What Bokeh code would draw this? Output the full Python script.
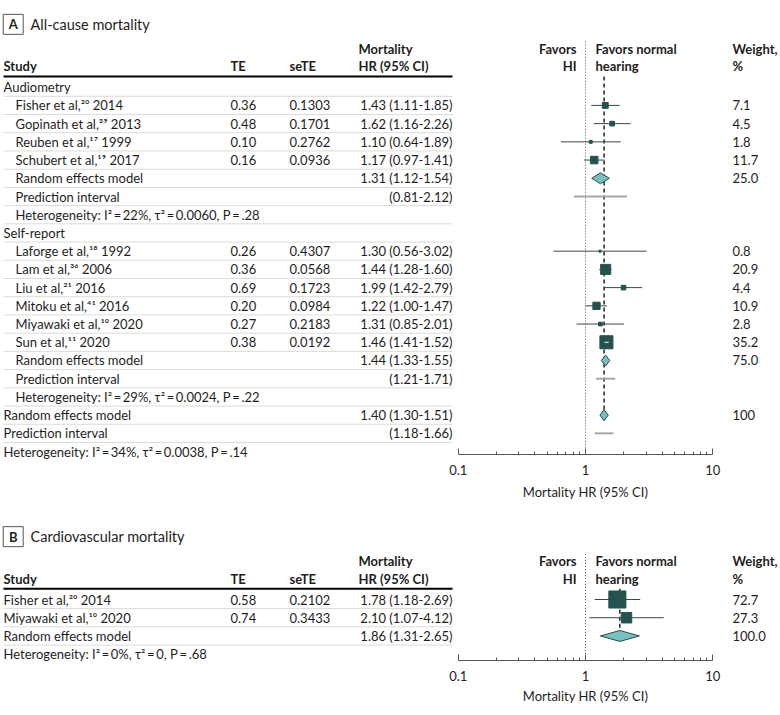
import math
from bokeh.plotting import figure
from bokeh.models import Range1d, LogScale, LogAxis, FixedTicker, ColumnDataSource
from bokeh.layouts import column
from bokeh.embed import file_html
from bokeh.resources import INLINE
from bokeh.core.properties import value

# ---------------- data ----------------
# Panel A: all-cause mortality
aud_names = ["Fisher et al,²⁰ 2014", "Gopinath et al,³⁹ 2013", "Reuben et al,¹⁷ 1999", "Schubert et al,¹⁹ 2017"]
aud_te = [0.36, 0.48, 0.10, 0.16]
aud_sete = [0.1303, 0.1701, 0.2762, 0.0936]
aud_hr = [1.43, 1.62, 1.10, 1.17]
aud_lo = [1.11, 1.16, 0.64, 0.97]
aud_hi = [1.85, 2.26, 1.89, 1.41]
aud_w = [7.1, 4.5, 1.8, 11.7]
aud_rem = [1.31, 1.12, 1.54]
aud_rem_w = "25.0"
aud_pi = [0.81, 2.12]
aud_het = "Heterogeneity: I²\u2009=\u200922%, τ²\u2009=\u20090.0060, P\u2009=\u2009.28"

sr_names = ["Laforge et al,¹⁸ 1992", "Lam et al,³⁶ 2006", "Liu et al,²¹ 2016", "Mitoku et al,⁴¹ 2016",
            "Miyawaki et al,¹⁰ 2020", "Sun et al,¹¹ 2020"]
sr_te = [0.26, 0.36, 0.69, 0.20, 0.27, 0.38]
sr_sete = [0.4307, 0.0568, 0.1723, 0.0984, 0.2183, 0.0192]
sr_hr = [1.30, 1.44, 1.99, 1.22, 1.31, 1.46]
sr_lo = [0.56, 1.28, 1.42, 1.00, 0.85, 1.41]
sr_hi = [3.02, 1.60, 2.79, 1.47, 2.01, 1.52]
sr_w = [0.8, 20.9, 4.4, 10.9, 2.8, 35.2]
sr_rem = [1.44, 1.33, 1.55]
sr_rem_w = "75.0"
sr_pi = [1.21, 1.71]
sr_het = "Heterogeneity: I²\u2009=\u200929%, τ²\u2009=\u20090.0024, P\u2009=\u2009.22"

all_rem = [1.40, 1.30, 1.51]
all_rem_w = "100"
all_pi = [1.18, 1.66]
all_het = "Heterogeneity: I²\u2009=\u200934%, τ²\u2009=\u20090.0038, P\u2009=\u2009.14"

# Panel B: cardiovascular mortality
cv_names = ["Fisher et al,²⁰ 2014", "Miyawaki et al,¹⁰ 2020"]
cv_te = [0.58, 0.74]
cv_sete = [0.2102, 0.3433]
cv_hr = [1.78, 2.10]
cv_lo = [1.18, 1.07]
cv_hi = [2.69, 4.12]
cv_w = [72.7, 27.3]
cv_rem = [1.86, 1.31, 2.65]
cv_rem_w = "100.0"
cv_het = "Heterogeneity: I²\u2009=\u20090%, τ²\u2009=\u20090,  P\u2009=\u2009.68"

tick_vals = [0.1, 1, 10]
tick_labels = ["0.1", "1", "10"]
axis_title = "Mortality HR (95% CI)"

# ---------------- layout / style ----------------
FONT = "Lato"
BODY = "13px"
W = 780
DEC = 127.3          # px per decade on the HR axis
X_ONE = 585.0        # frame x of HR = 1
ROW = 18.22          # px per row
HR_RANGE = (10 ** (-X_ONE / DEC), 10 ** ((W - X_ONE) / DEC))

C_TEXT = "#1e1e1e"
C_SQ = "#24524e"
C_CI = "#3a4747"
C_DIA = "#74c2c0"
C_DIA_LINE = "#2c4a48"
C_PI = "#a8a8a8"
C_SEP = "#dcdcd4"
C_AX = "#555555"

X_STUDY = 3
X_INDENT = 15
X_TE = 230
X_SETE = 289
X_HR_R = 452
X_HR_L = 358
X_FAV_HI = 576
X_FAV_N = 595
X_WT = 732

R_TITLE, R_H1, R_H2, R_LINE = -3.45, -2.1, -1.15, -0.59


def fmt_ci(e, l, h):
    return f"{e:.2f} ({l:.2f}-{h:.2f})"


def txt(p, xs, ys, texts, align="left", bold=False, size=BODY, rng="default"):
    src = ColumnDataSource(dict(x=xs, y=ys, t=texts))
    p.text(x="x", y="y", text="t", source=src, text_align=align, text_baseline="middle",
           text_font=value(FONT), text_font_size=value(size), x_range_name=rng,
           text_font_style="bold" if bold else "normal", text_color=C_TEXT)


def make_fig(height, top_row, axis_row, title_row):
    bottom_row = top_row + height / ROW
    p = figure(width=W, height=height, x_range=Range1d(0, W), y_range=Range1d(bottom_row, top_row),
               output_backend="svg", toolbar_location=None, x_axis_location=None, y_axis_location=None,
               min_border=0)
    p.outline_line_color = None
    p.background_fill_color = "white"
    p.border_fill_color = "white"
    for g in p.grid:
        g.visible = False
    p.extra_x_ranges = {"hr": Range1d(*HR_RANGE)}
    p.extra_x_scales = {"hr": LogScale()}
    ax = LogAxis(x_range_name="hr", bounds=(tick_vals[0], tick_vals[-1]), fixed_location=axis_row,
                 ticker=FixedTicker(ticks=tick_vals,
                                    minor_ticks=[m * d for d in (0.1, 1) for m in range(2, 10)]),
                 major_label_overrides={t: s for t, s in zip(tick_vals, tick_labels)})
    ax.axis_line_color = C_AX
    ax.major_tick_line_color = C_AX
    ax.minor_tick_line_color = C_AX
    ax.major_tick_in = 6
    ax.major_tick_out = 0
    ax.minor_tick_in = 3
    ax.minor_tick_out = 0
    ax.major_label_standoff = 10
    ax.major_label_text_font = FONT
    ax.major_label_text_font_size = BODY
    ax.major_label_text_color = C_TEXT
    p.add_layout(ax, "below")
    txt(p, [1], [title_row], [axis_title], "center", rng="hr")
    return p, axis_row


def headers(p, letter, title):
    p.rect(x=[12.7], y=[R_TITLE], width=20, height=20 / ROW, fill_color=None, line_color=C_AX, line_width=1)
    txt(p, [12.7], [R_TITLE], [letter], "center", True, "13px")
    txt(p, [30], [R_TITLE], [title], size="14.5px")
    txt(p, [X_STUDY, X_TE, X_SETE, X_HR_L], [R_H2] * 4, ["Study", "TE", "seTE", "HR (95% CI)"], bold=True)
    txt(p, [X_HR_L], [R_H1], ["Mortality"], bold=True)
    txt(p, [X_FAV_HI, X_FAV_HI], [R_H1, R_H2], ["Favors", "HI"], "right", True)
    txt(p, [X_FAV_N, X_FAV_N], [R_H1, R_H2], ["Favors normal", "hearing"], bold=True)
    txt(p, [X_WT, X_WT], [R_H1, R_H2], ["Weight,", "%"], bold=True)
    p.segment(x0=[X_STUDY], y0=[R_LINE], x1=[X_HR_R], y1=[R_LINE], line_color="black", line_width=2)


def separators(p, n):
    ys = [r + 0.5 for r in range(n)]
    p.segment(x0=[X_STUDY] * n, y0=ys, x1=[X_HR_R] * n, y1=ys, line_color=C_SEP, line_width=1)


def ref_lines(p, est, y_end, axis_row):
    p.segment(x0=[1], y0=[-2.5], x1=[1], y1=[axis_row], x_range_name="hr",
              line_color=C_AX, line_width=1, line_dash="1 2")
    p.segment(x0=[est], y0=[R_LINE], x1=[est], y1=[y_end], x_range_name="hr",
              line_color="#222222", line_width=1.5, line_dash="4 3")


def studies(p, rows, x, names, te, sete, hr, lo, hi, w, k):
    txt(p, [x] * len(rows), rows, names)
    txt(p, [X_TE] * len(rows), rows, [f"{v:.2f}" for v in te])
    txt(p, [X_SETE] * len(rows), rows, [f"{v:.4f}" for v in sete])
    txt(p, [X_HR_R] * len(rows), rows, [fmt_ci(a, b, c) for a, b, c in zip(hr, lo, hi)], "right")
    txt(p, [X_WT] * len(rows), rows, [f"{v:.1f}" for v in w])
    sizes = [max(2.0, k * math.sqrt(v)) for v in w]
    p.segment(x0=lo, y0=rows, x1=hi, y1=rows, x_range_name="hr", line_color=C_CI, line_width=1)
    p.scatter(x=hr, y=rows, size=sizes, marker="square", fill_color=C_SQ, line_color=C_SQ,
              x_range_name="hr")
    inner = [i for i in range(len(hr)) if DEC * math.log10(hi[i] / lo[i]) < sizes[i]]
    if inner:
        p.segment(x0=[lo[i] for i in inner], y0=[rows[i] for i in inner],
                  x1=[hi[i] for i in inner], y1=[rows[i] for i in inner],
                  x_range_name="hr", line_color="white", line_width=1)


def summary(p, row, x, label, est, w_label):
    txt(p, [x], [row], [label])
    txt(p, [X_HR_R], [row], [fmt_ci(*est)], "right")
    txt(p, [X_WT], [row], [w_label])
    e, l, h = est
    p.patches(xs=[[l, e, h, e]], ys=[[row, row - 0.3, row, row + 0.3]], x_range_name="hr",
              fill_color=C_DIA, line_color=C_DIA_LINE, line_width=1)


def pred(p, row, x, pi):
    txt(p, [x], [row], ["Prediction interval"])
    txt(p, [X_HR_R], [row], [f"({pi[0]:.2f}-{pi[1]:.2f})"], "right")
    p.segment(x0=[pi[0]], y0=[row], x1=[pi[1]], y1=[row], x_range_name="hr", line_color=C_PI, line_width=2)


# ---------------- Panel A ----------------
pA, axA = make_fig(510, -4.758, 20.16, 22.23)
headers(pA, "A", "All-cause mortality")
separators(pA, 20)
ref_lines(pA, all_rem[0], 18.3, axA)
txt(pA, [X_STUDY], [0], ["Audiometry"])
studies(pA, [1, 2, 3, 4], X_INDENT, aud_names, aud_te, aud_sete, aud_hr, aud_lo, aud_hi, aud_w, 2.2)
summary(pA, 5, X_INDENT, "Random effects model", aud_rem, aud_rem_w)
pred(pA, 6, X_INDENT, aud_pi)
txt(pA, [X_INDENT], [7], [aud_het])
txt(pA, [X_STUDY], [8], ["Self-report"])
studies(pA, [9, 10, 11, 12, 13, 14], X_INDENT, sr_names, sr_te, sr_sete, sr_hr, sr_lo, sr_hi, sr_w, 2.2)
summary(pA, 15, X_INDENT, "Random effects model", sr_rem, sr_rem_w)
pred(pA, 16, X_INDENT, sr_pi)
txt(pA, [X_INDENT], [17], [sr_het])
summary(pA, 18, X_STUDY, "Random effects model", all_rem, all_rem_w)
pred(pA, 19, X_STUDY, all_pi)
txt(pA, [X_STUDY], [20], [all_het])

# ---------------- Panel B ----------------
pB, axB = make_fig(205, -4.885, 3.348, 5.27)
headers(pB, "B", "Cardiovascular mortality")
separators(pB, 3)
ref_lines(pB, cv_rem[0], 2.3, axB)
studies(pB, [0, 1], X_STUDY, cv_names, cv_te, cv_sete, cv_hr, cv_lo, cv_hi, cv_w, 2.0)
summary(pB, 2, X_STUDY, "Random effects model", cv_rem, cv_rem_w)
txt(pB, [X_STUDY], [3], [cv_het])

layout = column(pA, pB, spacing=0)
open("out.html", "w").write(file_html(layout, INLINE))
